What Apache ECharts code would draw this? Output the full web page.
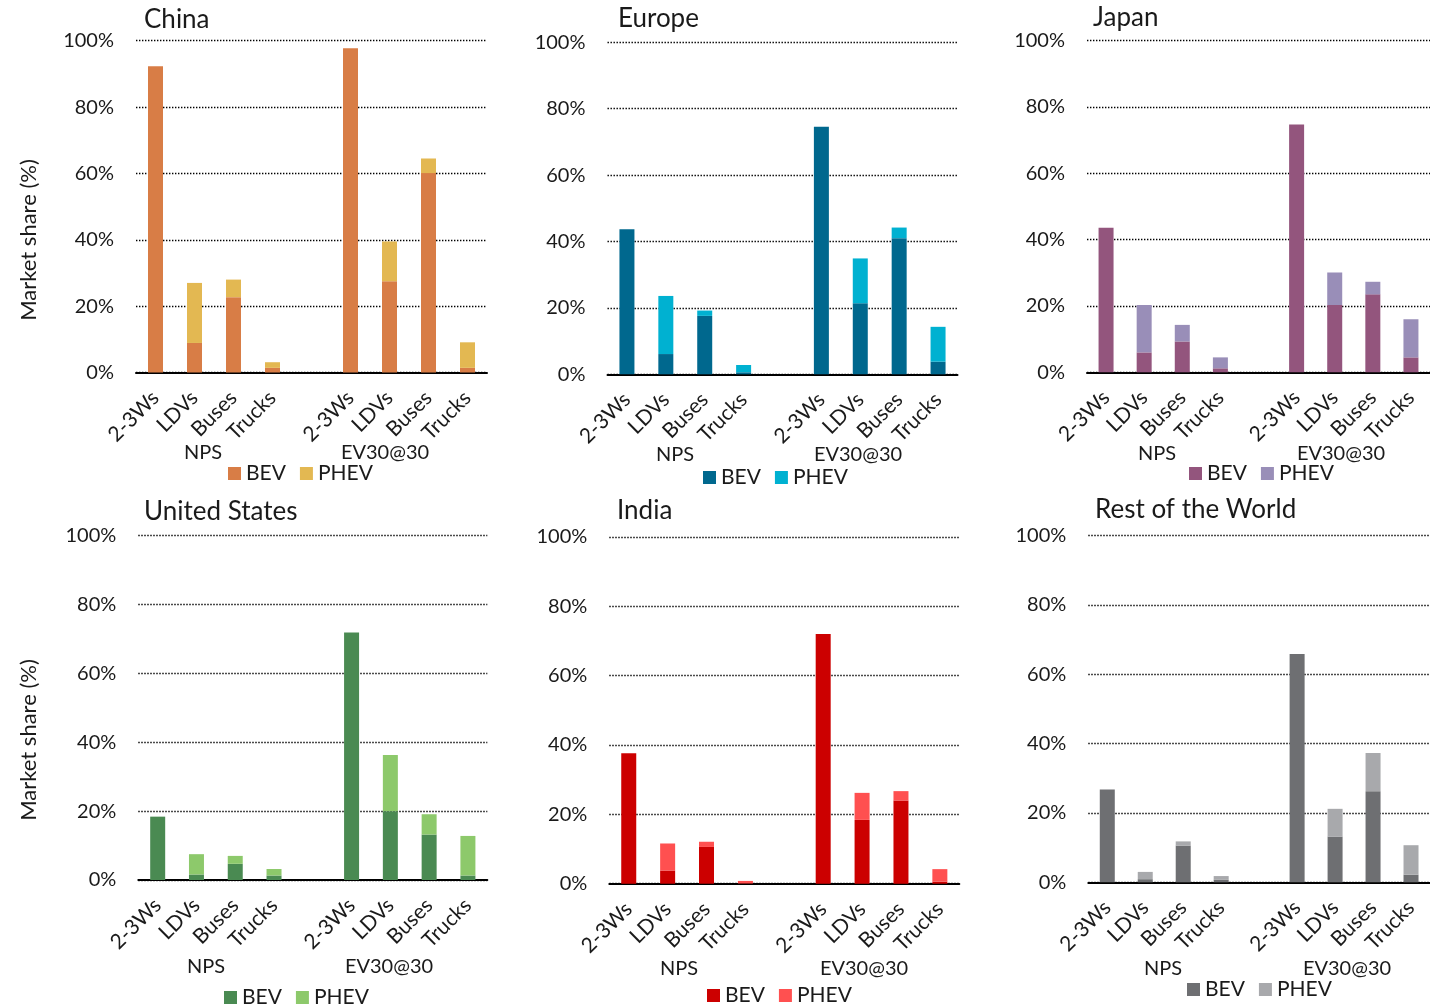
<!DOCTYPE html>
<html>
<head>
<meta charset="utf-8">
<script src="https://cdn.jsdelivr.net/npm/echarts@6/dist/echarts.min.js"></script>
<style>
html,body{margin:0;padding:0;background:#fff;}
#chart{width:1430px;height:1008px;}
</style>
</head>
<body>
<div id="chart"></div>
<script>
// ---------- DATA ----------
const categories = ['2-3Ws','LDVs','Buses','Trucks','','2-3Ws','LDVs','Buses','Trucks'];
const groupLabels = ['NPS','EV30@30'];
const yTicks = [0,20,40,60,80,100];
const regions = ['China','Europe','Japan','United States','India','Rest of the World'];
const seriesNames = ['BEV','PHEV'];

const chinaBEV   = [92.3, 8.9, 22.7, 1.4, null, 97.7, 27.5, 60.1, 1.4];
const chinaPHEV  = [0, 18.1, 5.3, 1.7, null, 0, 12.0, 4.4, 7.7];
const europeBEV  = [43.7, 6.1, 17.6, 0.6, null, 74.6, 21.4, 41.0, 3.8];
const europePHEV = [0, 17.5, 1.6, 2.2, null, 0, 13.5, 3.2, 10.5];
const japanBEV   = [43.6, 6.0, 9.3, 1.2, null, 74.7, 20.3, 23.5, 4.5];
const japanPHEV  = [0, 14.3, 5.0, 3.3, null, 0, 9.8, 3.8, 11.5];
const usBEV      = [18.4, 1.6, 4.7, 1.3, null, 71.9, 20.0, 13.2, 1.3];
const usPHEV     = [0, 5.9, 2.3, 1.9, null, 0, 16.3, 5.9, 11.5];
const indiaBEV   = [37.6, 3.8, 10.6, 0.1, null, 72.0, 18.4, 24.0, 0.6];
const indiaPHEV  = [0, 7.8, 1.5, 0.7, null, 0, 7.8, 2.7, 3.6];
const rowBEV     = [26.8, 0.9, 10.6, 0.7, null, 65.9, 13.2, 26.3, 2.2];
const rowPHEV    = [0, 2.1, 1.2, 1.1, null, 0, 8.0, 11.0, 8.5];

const bevData  = [chinaBEV, europeBEV, japanBEV, usBEV, indiaBEV, rowBEV];
const phevData = [chinaPHEV, europePHEV, japanPHEV, usPHEV, indiaPHEV, rowPHEV];

// ---------- STYLE / LAYOUT ----------
const colors = [
  ['#D87D46', '#E3B852'],
  ['#00688E', '#00B1D1'],
  ['#93557D', '#998EB8'],
  ['#4A8A52', '#8DC96B'],
  ['#CC0000', '#FF5050'],
  ['#6E6F72', '#A8A9AC']
];
const layout = [
  {left:136,   top:40.7,  width:351, height:331.8, titleX:144,  titleY:20,  legendX:228,  legendY:473, npsX:203,  evX:385,  groupY:453},
  {left:607.5, top:42.3,  width:350, height:332,   titleX:618,  titleY:19,  legendX:703,  legendY:477, npsX:675,  evX:858,  groupY:455},
  {left:1087,  top:40.7,  width:351, height:331.6, titleX:1093, titleY:18,  legendX:1189, legendY:473, npsX:1157, evX:1341, groupY:454},
  {left:138.3, top:535.7, width:349, height:344.3, titleX:144,  titleY:512, legendX:224,  legendY:997, npsX:206,  evX:389,  groupY:967},
  {left:609.3, top:537,   width:350, height:346.7, titleX:617,  titleY:511, legendX:707,  legendY:995, npsX:679,  evX:864,  groupY:969},
  {left:1088.3,top:535.7, width:351, height:346.6, titleX:1095, titleY:510, legendX:1187, legendY:989, npsX:1163, evX:1347, groupY:969}
];
const FONT = 'Lato';
const TXT = '#1a1a1a';

const grid = [], xAxis = [], yAxis = [], series = [], legend = [], graphic = [];

regions.forEach((r, i) => {
  const L = layout[i];
  grid.push({left: L.left, top: L.top, width: L.width, height: L.height, containLabel: false});
  xAxis.push({
    type: 'category', gridIndex: i, data: categories,
    axisLine: {show: true, onZero: true, lineStyle: {color: '#000', width: 2}},
    axisTick: {show: false},
    axisLabel: {rotate: 45, interval: 0, margin: 22, fontSize: 21, fontFamily: FONT, color: TXT,
                align: 'right', verticalAlign: 'middle'}
  });
  yAxis.push({
    type: 'value', gridIndex: i, min: yTicks[0], max: yTicks[yTicks.length-1], interval: 20,
    axisLine: {show: false}, axisTick: {show: false},
    axisLabel: {formatter: '{value}%', fontSize: 20, fontFamily: FONT, color: TXT, margin: 22},
    splitLine: {show: true, lineStyle: {color: '#000', width: 1.3, type: [1.4, 1.6]}}
  });
  const names = seriesNames.map(s => r + ' ' + s);
  series.push({
    name: names[0], type: 'bar', xAxisIndex: i, yAxisIndex: i, stack: 'st' + i,
    barWidth: 15, data: bevData[i], itemStyle: {color: colors[i][0]}, z: 3
  });
  series.push({
    name: names[1], type: 'bar', xAxisIndex: i, yAxisIndex: i, stack: 'st' + i,
    barWidth: 15, data: phevData[i], itemStyle: {color: colors[i][1]}, z: 3
  });
  legend.push({
    data: names, left: L.legendX, top: L.legendY - 10, padding: 0,
    itemWidth: 13, itemHeight: 13, itemGap: 14, selectedMode: false,
    icon: 'rect',
    formatter: n => n.slice(r.length + 1),
    textStyle: {fontSize: 21, fontFamily: FONT, color: TXT}
  });
  graphic.push({type: 'text', x: L.titleX, y: L.titleY,
    style: {text: r, fontSize: 26, fontFamily: FONT, fill: TXT, align: 'left', verticalAlign: 'middle'}});
  graphic.push({type: 'text', x: L.npsX, y: L.groupY,
    style: {text: groupLabels[0], fontSize: 20, fontFamily: FONT, fill: TXT, align: 'center', verticalAlign: 'middle'}});
  graphic.push({type: 'text', x: L.evX, y: L.groupY,
    style: {text: groupLabels[1], fontSize: 20, fontFamily: FONT, fill: TXT, align: 'center', verticalAlign: 'middle'}});
});

// y-axis titles (left column)
[{x: 29, y: 240}, {x: 29, y: 740}].forEach(p => {
  graphic.push({type: 'text', x: p.x, y: p.y, rotation: Math.PI / 2,
    style: {text: 'Market share (%)', fontSize: 22, fontFamily: FONT, fill: TXT, align: 'center', verticalAlign: 'middle'}});
});

const chart = echarts.init(document.getElementById('chart'), null, {renderer: 'canvas'});
chart.setOption({
  animation: false,
  backgroundColor: '#fff',
  textStyle: {fontFamily: FONT},
  grid, xAxis, yAxis, series, legend, graphic
});
</script>
</body>
</html>
